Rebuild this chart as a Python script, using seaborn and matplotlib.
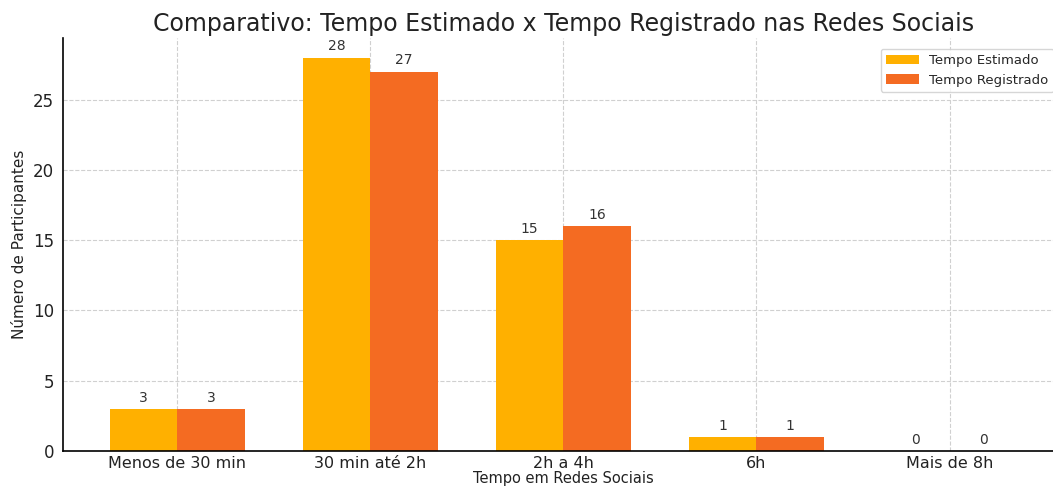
import pandas as pd
import matplotlib.pyplot as plt
import seaborn as sns

categorias = ["Menos de 30 min", "30 min até 2h", "2h a 4h", "6h", "Mais de 8h"]
tempo_estimado = [3, 28, 15, 1, 0]
tempo_registrado = [3, 27, 16, 1, 0]
series = ["Tempo Estimado", "Tempo Registrado"]
cores = ["#FFB000", "#F46B22"]

df = pd.DataFrame({
    "categoria": categorias * 2,
    "valor": tempo_estimado + tempo_registrado,
    "serie": [series[0]] * len(categorias) + [series[1]] * len(categorias),
})

sns.set_style("whitegrid")
plt.rcParams['font.family'] = ['DejaVu Sans']

fig = plt.figure(figsize=(10.53, 4.86), dpi=100)
ax = fig.add_axes([0.06, 0.072, 0.95, 0.85])

sns.barplot(data=df, x="categoria", y="valor", hue="serie", palette=cores,
            width=0.7, saturation=1, linewidth=0, ax=ax)

for cont in ax.containers:
    ax.bar_label(cont, padding=3, fontsize=10, color="#333333")

ax.set_xlim(-0.59, 4.59)
ax.set_ylim(0, 29.4)
ax.grid(True, linestyle="--", color="#d0d0d0", linewidth=0.8)
ax.set_axisbelow(True)

for s in ["top", "right"]:
    ax.spines[s].set_visible(False)
for s in ["left", "bottom"]:
    ax.spines[s].set_color("black")
    ax.spines[s].set_linewidth(1.2)

ax.tick_params(axis="y", labelsize=12, colors="#222222", length=3)
ax.tick_params(axis="x", labelsize=11.5, colors="#222222", length=3, pad=0.5)
ax.set_title("Comparativo: Tempo Estimado x Tempo Registrado nas Redes Sociais",
             fontsize=17, color="#222222", pad=5)
ax.set_xlabel("Tempo em Redes Sociais", fontsize=10.5, color="#222222", labelpad=0)
ax.set_ylabel("Número de Participantes", fontsize=11, color="#222222")

leg = ax.legend(loc="upper right", fontsize=9.5, frameon=True,
                bbox_to_anchor=(0.997, 0.99), handlelength=2.5)
leg.get_frame().set_edgecolor("#cccccc")

fig.savefig("out.png", dpi=100)
